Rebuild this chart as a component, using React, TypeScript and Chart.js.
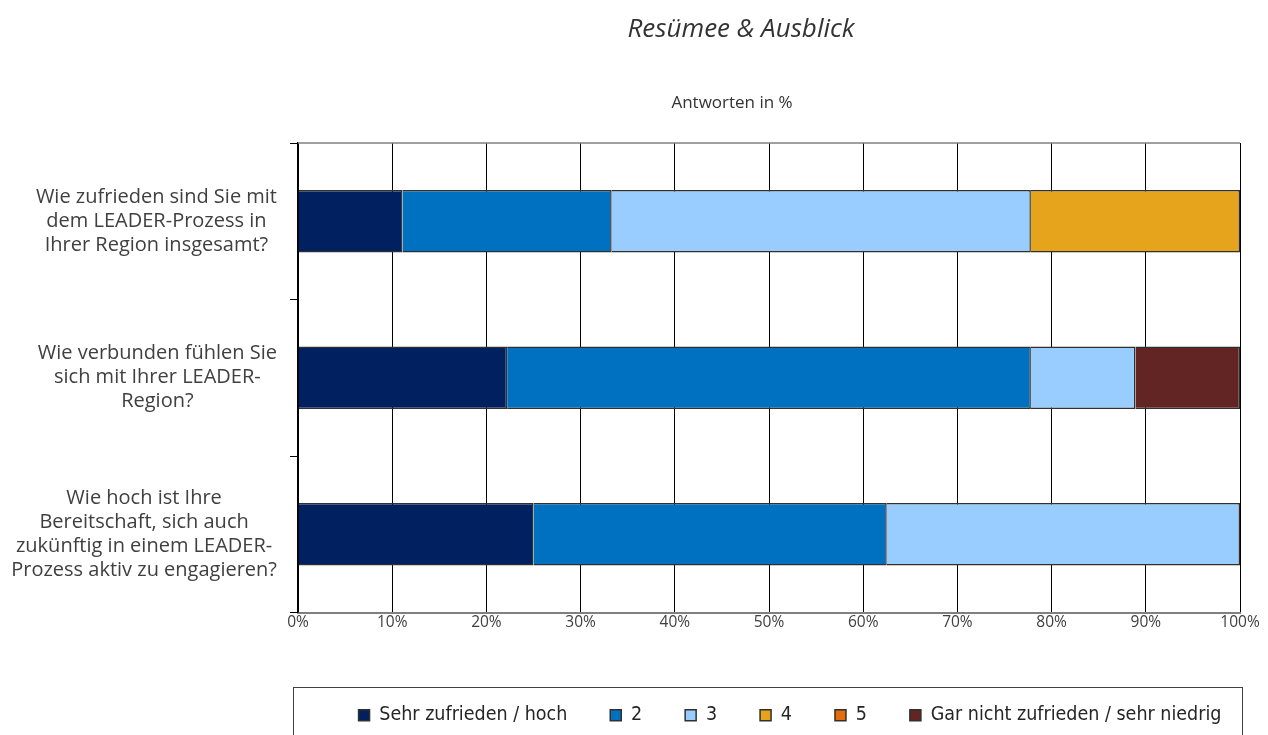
import React, { useEffect, useRef } from "react";
import { Chart, registerables } from "chart.js";

Chart.register(...registerables);

const categories: string[][] = [
  ["Wie zufrieden sind Sie mit", "dem LEADER-Prozess in", "Ihrer Region insgesamt?"],
  ["Wie verbunden fühlen Sie", "sich mit Ihrer LEADER-", "Region?"],
  ["Wie hoch ist Ihre", "Bereitschaft, sich auch", "zukünftig in einem LEADER-", "Prozess aktiv zu engagieren?"],
];

const seriesNames = [
  "Sehr zufrieden / hoch",
  "2",
  "3",
  "4",
  "5",
  "Gar nicht zufrieden / sehr niedrig",
];

const s1 = [11.1, 22.2, 25.0];
const s2 = [22.2, 55.6, 37.5];
const s3 = [44.5, 11.1, 37.5];
const s4 = [22.2, 0, 0];
const s5 = [0, 0, 0];
const s6 = [0, 11.1, 0];

const xTicks = [0, 10, 20, 30, 40, 50, 60, 70, 80, 90, 100];

const colors = ["#002060", "#0070C0", "#99CCFF", "#E6A31C", "#E46C0A", "#632523"];

const titleText = "Resümee & Ausblick";
const subtitleText = "Antworten in %";

export default function App() {
  const ref = useRef<HTMLCanvasElement | null>(null);

  useEffect(() => {
    if (!ref.current) return;
    const values = [s1, s2, s3, s4, s5, s6];
    const decor = {
      id: "decor",
      afterLayout(chart: any) {
        const lg = chart.legend;
        const ca = chart.chartArea;
        const shift = (ca.left + ca.right) / 2 + 21 - (lg.left + lg.right) / 2;
        lg.left += shift;
        lg.right += shift;
      },
      afterDraw(chart: any) {
        const ctx = chart.ctx;
        const ca = chart.chartArea;
        ctx.save();
        // titles
        ctx.fillStyle = "#333333";
        ctx.textAlign = "center";
        ctx.textBaseline = "middle";
        ctx.font = "italic 26px 'Open Sans'";
        ctx.fillText(titleText, 741, 30);
        ctx.font = "17px 'Open Sans'";
        ctx.fillText(subtitleText, 732, 103);
        // category labels: each block right-aligned, lines centered within block
        const yScale = chart.scales.y;
        ctx.font = "20px 'Open Sans'";
        ctx.fillStyle = "#404040";
        const lh = 24;
        categories.forEach((lines, i) => {
          const yc = yScale.getPixelForTick(i);
          const bw = Math.max(...lines.map((l) => ctx.measureText(l).width));
          const cx = ca.left - 21 - bw / 2;
          const y0 = yc - ((lines.length - 1) * lh) / 2;
          lines.forEach((l, k) => ctx.fillText(l, cx, y0 + k * lh));
        });
        // plot border top
        ctx.strokeStyle = "#808080";
        ctx.lineWidth = 1.5;
        ctx.beginPath();
        ctx.moveTo(ca.left, ca.top);
        ctx.lineTo(ca.right, ca.top);
        ctx.stroke();
        // legend box
        const lg = chart.legend;
        const lcy = lg.top + 43 + 19.5 / 2;
        ctx.strokeStyle = "#404040";
        ctx.lineWidth = 1;
        ctx.strokeRect(ca.left - 4.5, Math.round(lcy - 28) + 0.5, ca.right - ca.left + 7, 80);
        ctx.restore();
      },
    };
    const chart = new Chart(ref.current, {
      type: "bar",
      data: {
        labels: categories,
        datasets: seriesNames.map((name, i) => ({
          label: name,
          data: values[i],
          backgroundColor: colors[i],
          borderColor: "#303030",
          borderWidth: 1.5,
          barPercentage: 0.4,
          categoryPercentage: 1.0,
        })),
      },
      options: {
        indexAxis: "y",
        animation: false,
        responsive: false,
        maintainAspectRatio: false,
        layout: { padding: { top: 143, right: 28, bottom: 0, left: 0 } },
        scales: {
          x: {
            stacked: true,
            min: 0,
            max: 100,
            afterBuildTicks(scale: any) {
              scale.ticks = xTicks.map((v) => ({ value: v }));
            },
            afterFit(scale: any) {
              scale.height = 50;
            },
            ticks: {
              callback: (v: any) => v + "%",
              color: "#404040",
              font: { family: "'Open Sans'", size: 15.5 },
              padding: 1,
              maxRotation: 0,
            },
            grid: { color: "#000000", lineWidth: 1, drawTicks: false },
            border: { color: "#808080", width: 2 },
          },
          y: {
            stacked: true,
            afterFit(scale: any) {
              scale.width = 298;
            },
            ticks: {
              display: false,
            },
            grid: {
              offset: true,
              drawOnChartArea: false,
              drawTicks: true,
              tickLength: 8,
              color: "#000000",
            },
            border: { color: "#000000", width: 1.5 },
          },
        },
        plugins: {
          title: { display: false },
          tooltip: { enabled: false },
          legend: {
            display: true,
            position: "bottom",
            labels: {
              boxWidth: 11,
              boxHeight: 11,
              padding: 43,
              color: "#262626",
              font: { family: "'DejaVu Sans Condensed', 'DejaVu Sans'", size: 19.5 },
            },
          },
        },
      },
      plugins: [decor],
    } as any);
    return () => chart.destroy();
  }, []);

  return (
    <div style={{ position: "fixed", left: 0, top: 0, width: 1268, height: 735, background: "#ffffff" }}>
      <canvas ref={ref} width={1268} height={735} style={{ width: 1268, height: 735 }} />
    </div>
  );
}
